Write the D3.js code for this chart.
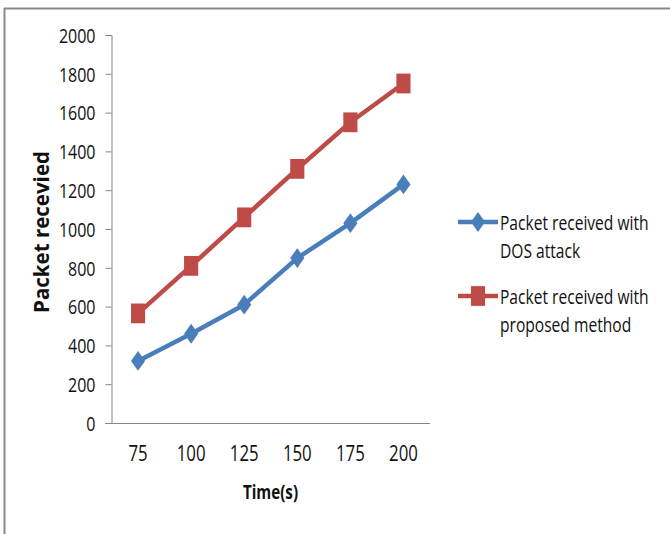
<!DOCTYPE html>
<html>
<head>
<meta charset="utf-8">
<script src="https://cdn.jsdelivr.net/npm/d3@7"></script>
<style>
  html, body { margin: 0; padding: 0; background: #fff; }
  svg { display: block; }
  text { font-family: "Open Sans", "DejaVu Sans", sans-serif; fill: #111; }
</style>
</head>
<body>
<svg id="chart" width="670" height="534"></svg>
<script>
// Time points on the x axis
const times = ["75", "100", "125", "150", "175", "200"];
// Packets received under a DOS attack
const dosAttack = [320, 460, 610, 850, 1030, 1230];
// Packets received with the proposed method
const proposed = [565, 810, 1060, 1310, 1550, 1750];
// Y axis tick values
const yTicks = [0, 200, 400, 600, 800, 1000, 1200, 1400, 1600, 1800, 2000];

const seriesNames = ["Packet received with\nDOS attack", "Packet received with\nproposed method"];
const seriesColors = ["#4A7EBB", "#BE4B48"];
const seriesValues = [dosAttack, proposed];

const svg = d3.select("#chart");

// narrow, tall lettering: squeeze text horizontally around its anchor x
function squeeze(sel, sx) {
  sel.each(function () {
    const t = d3.select(this);
    const x0 = +t.attr("x") || 0;
    t.attr("transform", `translate(${x0},0) scale(${sx},1) translate(${-x0},0)`);
  });
}

// outer frame (top and left edges)
svg.append("line").attr("x1", 4).attr("x2", 670).attr("y1", 8.5).attr("y2", 8.5)
  .attr("stroke", "#8a8a8a").attr("stroke-width", 2);
svg.append("line").attr("x1", 4.5).attr("x2", 4.5).attr("y1", 8).attr("y2", 534)
  .attr("stroke", "#8a8a8a").attr("stroke-width", 2);

const plot = { left: 111.5, right: 430, top: 35, bottom: 423 };

const x = d3.scaleBand().domain(times).range([plot.left, plot.right]);
const y = d3.scaleLinear().domain([0, 2000]).range([plot.bottom, plot.top]);

// y axis
const yAxis = svg.append("g").attr("transform", `translate(${plot.left},0)`)
  .call(d3.axisLeft(y).tickValues(yTicks).tickSize(6).tickPadding(10).tickFormat(d3.format("d")));
yAxis.select(".domain").attr("stroke", "#868686").attr("stroke-width", 1);
yAxis.selectAll(".tick line").attr("stroke", "#868686");
yAxis.selectAll(".tick text").attr("font-size", 20).style("fill", "#111").attr("dy", "0.36em")
  .call(squeeze, 0.8);

// x axis
const xAxis = svg.append("g").attr("transform", `translate(0,${plot.bottom})`)
  .call(d3.axisBottom(x).tickSize(0).tickPadding(23));
xAxis.select(".domain").attr("d", `M${plot.left - 6},0.5H${plot.right}`)
  .attr("stroke", "#868686").attr("stroke-width", 1);
xAxis.selectAll(".tick text").attr("font-size", 21).style("fill", "#111")
  .call(squeeze, 0.8);

// axis titles
svg.append("text")
  .attr("transform", `translate(49,${(plot.top + plot.bottom) / 2 + 3}) rotate(-90)`)
  .attr("text-anchor", "middle").attr("font-size", 20.5).attr("font-weight", "bold")
  .text("Packet recevied");

svg.append("text")
  .attr("x", 270.5).attr("y", 499)
  .attr("text-anchor", "middle").attr("font-size", 19).attr("font-weight", "bold")
  .text("Time(s)")
  .call(squeeze, 0.8);

// marker shapes, drawn through d3.symbol
const diamondType = {
  draw(ctx, size) {
    const r = Math.sqrt(size) / 2;
    ctx.moveTo(0, -r); ctx.lineTo(r, 0); ctx.lineTo(0, r); ctx.lineTo(-r, 0); ctx.closePath();
  }
};
const diamond = d3.symbol().type(diamondType).size(200);
const square = d3.symbol().type(d3.symbolSquare).size(200);
const markers = [diamond, square];
const markerStretch = "scale(1,1.4)";

// series lines and markers
const cx = i => x(times[i]) + x.bandwidth() / 2;
const line = d3.line().x((d, i) => cx(i)).y(d => y(d));

seriesValues.forEach((vals, s) => {
  const g = svg.append("g");
  g.append("path").datum(vals).attr("d", line)
    .attr("fill", "none").attr("stroke", seriesColors[s]).attr("stroke-width", 4.5)
    .attr("stroke-linejoin", "round");
  g.selectAll("path.m").data(vals).join("path").attr("class", "m")
    .attr("d", markers[s])
    .attr("transform", (d, i) => `translate(${cx(i)},${y(d)}) ${markerStretch}`)
    .attr("fill", seriesColors[s]);
});

// legend
const legendY = [222, 296];
seriesNames.forEach((name, s) => {
  const g = svg.append("g").attr("transform", `translate(458,${legendY[s]})`);
  g.append("line").attr("x1", 0).attr("x2", 40).attr("y1", 0).attr("y2", 0)
    .attr("stroke", seriesColors[s]).attr("stroke-width", 4.5);
  g.append("path").attr("d", markers[s]).attr("transform", `translate(20,0) ${markerStretch}`)
    .attr("fill", seriesColors[s]);
  const t = g.append("text").attr("x", 42).attr("y", 8).attr("font-size", 20);
  name.split("\n").forEach((ln, k) => {
    t.append("tspan").attr("x", 42).attr("dy", k === 0 ? 0 : 28).text(ln);
  });
  squeeze(t, 0.78);
});
</script>
</body>
</html>
